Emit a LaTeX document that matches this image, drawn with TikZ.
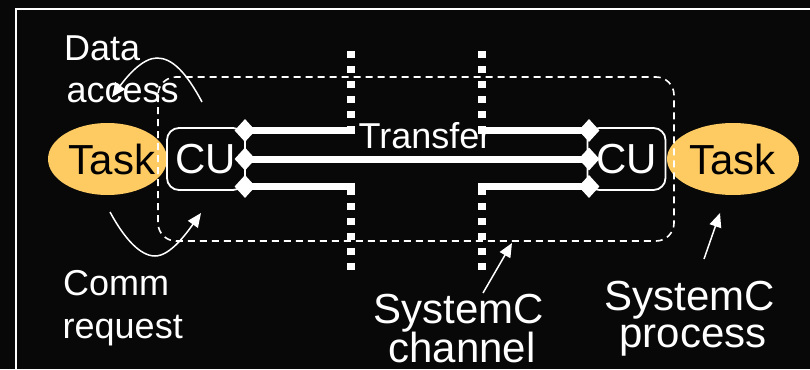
\documentclass[tikz,border=0pt]{standalone}
\usepackage{fontspec}
\setmainfont{Liberation Sans}
\usetikzlibrary{shapes.geometric,arrows.meta}
\definecolor{taskfill}{RGB}{254,203,99}
\definecolor{bg}{RGB}{8,8,8}
\begin{document}
\begin{tikzpicture}[x=1pt,y=-1pt,
  lbl36/.style={text=white,inner sep=0pt,font=\fontsize{36}{42}\selectfont},
  lbl42/.style={text=white,inner sep=0pt,font=\fontsize{42}{48}\selectfont},
  taskell/.style={ellipse,fill=taskfill,inner sep=0pt,minimum width=#1,minimum height=72pt},
  tasktxt/.style={text=black,inner sep=0pt,font=\fontsize{42}{48}\selectfont},
  cubox/.style={rectangle,draw=white,line width=1.8pt,fill=bg,rounded corners=12pt,
    minimum width=78pt,minimum height=62pt,inner sep=0pt,text=white,
    font=\fontsize{42}{48}\selectfont},
  dia/.style={diamond,fill=white,inner sep=0pt,minimum width=21pt,minimum height=23pt},
  wire/.style={white,line width=7pt},
  portline/.style={white,line width=8pt,dash pattern=on 7pt off 8pt},
  chanbox/.style={white,line width=1.6pt,dash pattern=on 7pt off 5pt,rounded corners=18pt},
  arr/.style={white,line width=1.5pt,-{Triangle[length=14pt,width=12pt]}},
  frame/.style={white,line width=2pt}]
\useasboundingbox (0,0) rectangle (810,369);
\fill[bg] (0,0) rectangle (810,369);
\draw[frame] (16,380) -- (16,9.3) -- (830,9.3);

% tasks
\node[taskell=119pt] (taskL) at (107.5,159) {};
\node[tasktxt] (taskLt) at (112,159) {Task};
\node[taskell=132pt] (taskR) at (733,159) {};
\node[tasktxt] (taskRt) at (732.5,159) {Task};

% channel boundary
\draw[chanbox] (158,77) rectangle (674,241);

% communication units
\node[cubox] (cuL) at (206,159) {CU};
\node[cubox] (cuR) at (626.5,159) {CU};

% ports (dotted)
\draw[portline] (351,51) -- (351,133);
\draw[portline] (351,188) -- (351,270);
\draw[portline] (482,51) -- (482,133);
\draw[portline] (482,188) -- (482,270);
\coordinate (pL1) at (355,130.5);
\coordinate (pL3) at (355,186.5);
\coordinate (pR1) at (478,130.5);
\coordinate (pR3) at (478,186.5);

% diamonds
\node[dia] (dL1) at (245,130.5) {};
\node[dia] (dL2) at (245,159) {};
\node[dia] (dL3) at (245,186.5) {};
\node[dia] (dR1) at (589,130.5) {};
\node[dia] (dR2) at (589,159) {};
\node[dia] (dR3) at (589,186.5) {};

% wires
\draw[wire] (dL1.center) -- (pL1);
\draw[wire] (pR1) -- (dR1.center);
\draw[wire] (dL2.center) -- (dR2.center);
\draw[wire] (dL3.center) -- (pL3);
\draw[wire] (pR3) -- (dR3.center);

\node[lbl36,anchor=base] (xfer) at (425,148) {Transfer};

% labels
\node[lbl36,anchor=base west] (data1) at (64,60) {Data};
\node[lbl36,anchor=base west] (data2) at (66.5,102) {access};
\node[lbl36,anchor=base west] (comm1) at (63,295) {Comm};
\node[lbl36,anchor=base west] (comm2) at (62.5,338) {request};
\node[lbl42,anchor=base] (ch1) at (459,323) {SystemC};
\node[lbl42,anchor=base] (ch2) at (462,362) {channel};
\node[lbl42,anchor=base] (pr1) at (690,310) {SystemC};
\node[lbl42,anchor=base] (pr2) at (693,347) {process};

% arrows
\coordinate (daS) at (202,102);
\coordinate (daP) at (157,58);
\coordinate (daE) at (112,97);
\draw[arr] (daS) .. controls (186,72) and (172,58) .. (daP)
  .. controls (143,58) and (128,75) .. (daE);
\coordinate (crS) at (110,212);
\coordinate (crP) at (155,256);
\coordinate (crE) at (201,213);
\draw[arr] (crS) .. controls (124,238) and (140,256) .. (crP)
  .. controls (170,256) and (186,234) .. (crE);
\coordinate (chA) at (483,293);
\coordinate (chT) at (512,243);
\draw[arr] (chA) -- (chT);
\coordinate (prA) at (704,259);
\coordinate (prT) at (720,213);
\draw[arr] (prA) -- (prT);
\end{tikzpicture}
\end{document}
